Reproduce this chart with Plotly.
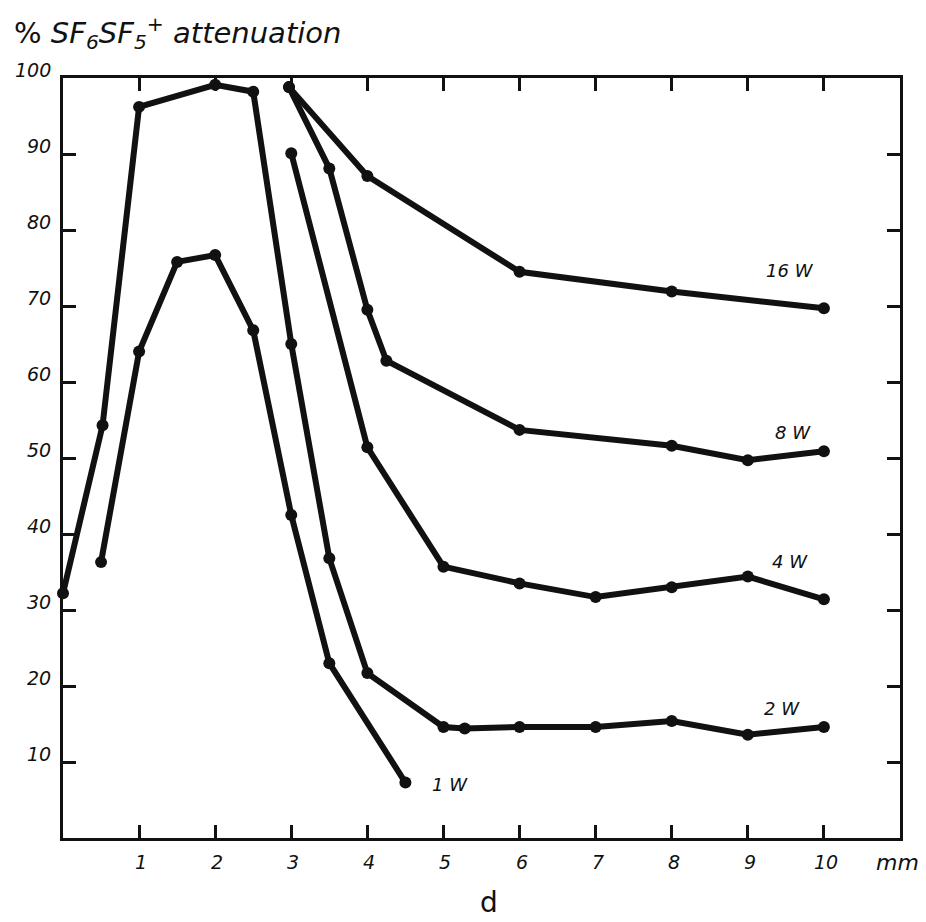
import plotly.graph_objects as go

# ---- data ----
x_1w = [0.5, 1.0, 1.5, 2.0, 2.5, 3.0, 3.5, 4.5]
y_1w = [36.3, 64.0, 75.8, 76.7, 66.8, 42.5, 23.0, 7.3]

x_2w = [0.0, 0.52, 1.0, 2.0, 2.5, 3.0, 3.5, 4.0, 5.0, 5.28, 6.0, 7.0, 8.0, 9.0, 10.0]
y_2w = [32.2, 54.3, 96.2, 99.1, 98.2, 65.0, 36.8, 21.7, 14.6, 14.4, 14.6, 14.6, 15.4, 13.6, 14.6]

x_4w = [3.0, 4.0, 5.0, 6.0, 7.0, 8.0, 9.0, 10.0]
y_4w = [90.1, 51.4, 35.7, 33.5, 31.7, 33.0, 34.4, 31.4]

x_8w = [2.97, 3.5, 4.0, 4.25, 6.0, 8.0, 9.0, 10.0]
y_8w = [98.8, 88.1, 69.5, 62.8, 53.7, 51.6, 49.7, 50.9]

x_16w = [2.97, 4.0, 6.0, 8.0, 10.0]
y_16w = [98.8, 87.1, 74.5, 71.9, 69.7]

series_names = ["1 W", "2 W", "4 W", "8 W", "16 W"]

x_ticks = [1, 2, 3, 4, 5, 6, 7, 8, 9, 10]
x_tick_labels = ["1", "2", "3", "4", "5", "6", "7", "8", "9", "10"]
y_ticks = [10, 20, 30, 40, 50, 60, 70, 80, 90, 100]
y_tick_labels = ["10", "20", "30", "40", "50", "60", "70", "80", "90", "100"]

FONT = "DejaVu Sans"
INK = "#111111"

fig = go.Figure()
for xs, ys, nm in [(x_1w, y_1w, series_names[0]), (x_2w, y_2w, series_names[1]),
                   (x_4w, y_4w, series_names[2]), (x_8w, y_8w, series_names[3]),
                   (x_16w, y_16w, series_names[4])]:
    fig.add_trace(go.Scatter(
        x=xs, y=ys, name=nm, mode="lines+markers",
        line=dict(color=INK, width=6),
        marker=dict(color=INK, size=12),
        cliponaxis=False, showlegend=False))

ann = []
# y tick labels
for v, t in zip(y_ticks, y_tick_labels):
    ann.append(dict(xref="paper", x=0, xanchor="right", xshift=-10,
                    yref="y", y=v, yanchor="middle", yshift=8,
                    text="<i>" + t + "</i>", showarrow=False,
                    font=dict(family=FONT, size=19, color=INK)))
# x tick labels
for v, t in zip(x_ticks, x_tick_labels):
    ann.append(dict(xref="x", x=v, xanchor="center", xshift=2,
                    yref="paper", y=0, yanchor="middle", yshift=-24,
                    text="<i>" + t + "</i>", showarrow=False,
                    font=dict(family=FONT, size=19, color=INK)))
# unit and axis name
ann.append(dict(xref="paper", x=1, xanchor="center", xshift=-3,
                yref="paper", y=0, yanchor="middle", yshift=-24,
                text="<i>mm</i>", showarrow=False,
                font=dict(family=FONT, size=22, color=INK)))
ann.append(dict(xref="x", x=5.6, xanchor="center",
                yref="paper", y=0, yanchor="middle", yshift=-64,
                text="d", showarrow=False,
                font=dict(family=FONT, size=28, color=INK)))
# title
ann.append(dict(xref="paper", x=0, xanchor="left", xshift=-51,
                yref="paper", y=1, yanchor="middle", yshift=45,
                text="% <i>SF<sub>6</sub>SF<sub>5</sub><sup>+</sup> attenuation</i>",
                showarrow=False, font=dict(family=FONT, size=29, color=INK)))
# series labels
lbl_pos = {"16 W": (9.55, 74.7), "8 W": (9.6, 53.4), "4 W": (9.55, 36.4),
           "2 W": (9.45, 17.1), "1 W": (5.08, 7.0)}
for nm in series_names:
    lx, ly = lbl_pos[nm]
    ann.append(dict(xref="x", x=lx, yref="y", y=ly, xanchor="center", yanchor="middle",
                    text="<i>" + nm + "</i>", showarrow=False,
                    font=dict(family=FONT, size=18, color=INK)))

axis_common = dict(showline=True, linecolor=INK, linewidth=3, mirror="ticks",
                   ticks="inside", ticklen=13, tickwidth=3, tickcolor=INK,
                   showgrid=False, zeroline=False, showticklabels=False)

# page body adds an 8px offset; margins compensate so the frame lands where the reference has it
fig.update_layout(
    width=926, height=922,
    margin=dict(l=55, r=34, t=70, b=92),
    paper_bgcolor="white", plot_bgcolor="white",
    xaxis=dict(range=[0, 11], tickvals=x_ticks, **axis_common),
    yaxis=dict(range=[0, 100], tickvals=y_ticks[:-1], **axis_common),
    annotations=ann,
    font=dict(family=FONT, color=INK),
)

fig.write_html("out.html")
